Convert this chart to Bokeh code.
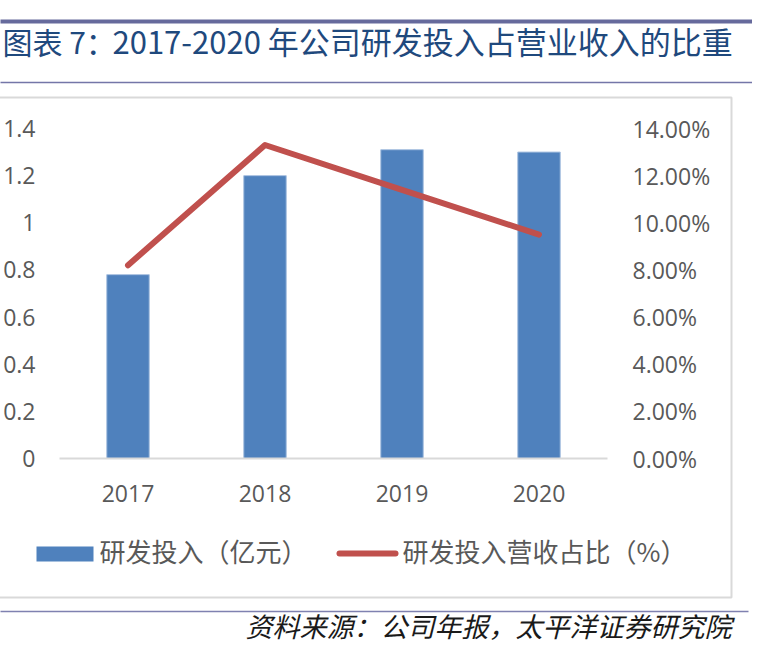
from bokeh.plotting import figure
from bokeh.models import (FactorRange, Range1d, LinearAxis, FixedTicker,
                          CustomJSTickFormatter, PrintfTickFormatter,
                          ColumnDataSource)
from bokeh.core.properties import value
from bokeh.embed import file_html
from bokeh.resources import INLINE

# ---- data ----
years = ["2017", "2018", "2019", "2020"]
rd_invest = [0.78, 1.20, 1.31, 1.30]          # 研发投入（亿元）
rd_ratio = [8.2, 13.3, 11.4, 9.5]             # 研发投入营收占比（%）
left_ticks = [0, 0.2, 0.4, 0.6, 0.8, 1.0, 1.2, 1.4]
right_ticks = [0, 2, 4, 6, 8, 10, 12, 14]
title_prefix = "图表 7："
title_main = "2017-2020 年公司研发投入占营业收入的比重"
source_text = "资料来源：公司年报，太平洋证券研究院"
legend_labels = ["研发投入（亿元）", "研发投入营收占比（%）"]

CJK = "Noto Sans CJK SC"
BAR_COLOR = "#4f81bd"
LINE_COLOR = "#c0504d"
W, H = 752, 651                       # canvas size
FL, FR, FT, FB = 59, 607, 128, 458    # frame in canvas pixels


def px(x):
    """canvas pixel x -> synthetic categorical coordinate"""
    return (x - FL) / (FR - FL) * len(years)


p = figure(width=W, height=H,
           x_range=FactorRange(*years, range_padding=0),
           y_range=Range1d(0, 1.4),
           output_backend="svg", toolbar_location=None,
           min_border_left=FL, min_border_right=W - FR,
           min_border_top=FT, min_border_bottom=H - FB)
p.outline_line_color = None
p.xgrid.visible = False
p.ygrid.visible = False
p.background_fill_color = "white"
p.border_fill_color = "white"

# extra y range whose data values equal canvas pixel rows
p.extra_y_ranges = {"pct": Range1d(0, 14), "py": Range1d(FB, FT)}

label_font = "Open Sans"
label_color = "#595959"


def style_axis(ax, standoff):
    ax.major_tick_line_color = None
    ax.minor_tick_line_color = None
    ax.major_tick_out = 0
    ax.major_tick_in = 0
    ax.minor_tick_out = 0
    ax.minor_tick_in = 0
    ax.major_label_text_font = label_font
    ax.major_label_text_font_size = "23px"
    ax.major_label_text_color = label_color
    ax.major_label_standoff = standoff


# bottom axis
xa = p.xaxis[0]
style_axis(xa, 26)
xa.axis_line_color = "#d9d9d9"
xa.axis_line_width = 2

# left axis
ya = p.yaxis[0]
ya.ticker = FixedTicker(ticks=left_ticks)
ya.formatter = CustomJSTickFormatter(code="return String(Number(tick.toFixed(2)))")
ya.axis_line_color = None
style_axis(ya, 24)

# right axis
ra = LinearAxis(y_range_name="pct", ticker=FixedTicker(ticks=right_ticks),
                formatter=PrintfTickFormatter(format="%.2f%%"))
ra.axis_line_color = None
style_axis(ra, 25)
p.add_layout(ra, "right")

src = ColumnDataSource(dict(years=years, invest=rd_invest, ratio=rd_ratio))
bars = p.vbar(x="years", top="invest", width=0.31, source=src,
              fill_color=BAR_COLOR, line_color="#a9c1e0", line_width=1)
line = p.line(x="years", y="ratio", y_range_name="pct", source=src,
              line_color=LINE_COLOR, line_width=6, line_cap="round",
              line_join="round")

# ---- decorations (canvas-pixel coordinates, drawn outside the frame) ----
deco = dict(y_range_name="py", level="overlay")
p.segment(x0=[px(0)], y0=[21], x1=[px(752)], y1=[21], line_color="#666a9c",
          line_width=4, **deco)
p.segment(x0=[px(0)], y0=[82], x1=[px(752)], y1=[82], line_color="#7476a8",
          line_width=1.5, **deco)
p.segment(x0=[px(0)], y0=[611], x1=[px(748)], y1=[611], line_color="#7f81b0",
          line_width=1.5, **deco)
p.quad(left=[px(-5)], right=[px(731)], top=[97], bottom=[597], fill_color=None,
       line_color="#d9d9d9", line_width=2, **deco)

p.text(x=[px(2)], y=[40], text=[title_prefix], text_font=value(CJK),
       text_font_size="30px", text_color="#1f497d", text_baseline="middle",
       text_align="left", **deco)
p.text(x=[px(112)], y=[40], text=[title_main], text_font=value(CJK),
       text_font_size="31px", text_color="#1f497d", text_baseline="middle",
       text_align="left", **deco)
p.text(x=[px(731)], y=[625], text=[source_text], text_font=value(CJK),
       text_font_size="27px", text_font_style="italic", text_color="#1a1a1a",
       text_baseline="middle", text_align="right", **deco)

# ---- legend ----
p.quad(left=[px(36)], right=[px(93)], top=[546], bottom=[561],
       fill_color=BAR_COLOR, line_color=None, **deco)
p.segment(x0=[px(339)], y0=[553], x1=[px(395)], y1=[553],
          line_color=LINE_COLOR, line_width=6, line_cap="round", **deco)
p.text(x=[px(99), px(402)], y=[550, 550], text=legend_labels,
       text_font=value(CJK), text_font_size="26px", text_color=label_color,
       text_baseline="middle", text_align="left", **deco)

open("out.html", "w").write(file_html(p, INLINE))
